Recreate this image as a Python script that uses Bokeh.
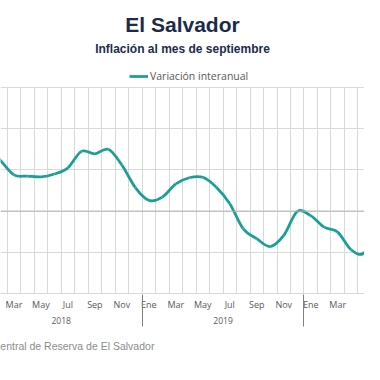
from bokeh.plotting import figure
from bokeh.models import (FixedTicker, LinearAxis, Grid, Span, Title,
                          Legend, LegendItem, Range1d)
from bokeh.embed import file_html
from bokeh.resources import INLINE

# ---------------- data ----------------
years = [2018] * 12 + [2019] * 12 + [2020] * 9
month_abbr = ["Ene", "Feb", "Mar", "Abr", "May", "Jun",
              "Jul", "Ago", "Sep", "Oct", "Nov", "Dic"]
inflation = [1.55, 1.23, 0.88, 0.85, 0.83, 0.90, 1.05, 1.45, 1.39, 1.50, 1.12, 0.57,
             0.26, 0.34, 0.66, 0.81, 0.82, 0.58, 0.18, -0.43, -0.67, -0.86, -0.59, -0.01,
             -0.11, -0.39, -0.51, -0.94, -1.00, -0.27, 0.10, 0.30, 0.40]
year_labels = ["2018", "2019", "2020"]
y_ticks = [-2, -1, 0, 1, 2, 3]
series_name = "Variación interanual"
title_text = "El Salvador"
subtitle_text = "Inflación al mes de septiembre"
source_text = "Fuente: Banco Central de Reserva de El Salvador"

TEAL = "#1a9e97"
GRID = "#d9d9d9"
TXT = "#595959"
NAVY = "#1c2b4a"

n = len(inflation)
xs = list(range(n))
y_lo, y_hi = min(y_ticks), max(y_ticks)

# frame: top at 60px (room for legend), plot area 87..293px -> 41.2 px per unit
px_per_unit = 206 / (y_hi - y_lo)
frame_top_extra = 27 / px_per_unit

p = figure(width=364, height=364, output_backend="svg", toolbar_location=None,
           x_axis_location=None, y_axis_location=None,
           x_range=Range1d(1.0033, 27.986), y_range=Range1d(y_lo, y_hi + frame_top_extra),
           min_border_left=0, min_border_right=0, min_border_top=60, min_border_bottom=71)
p.outline_line_color = None
p.background_fill_color = "white"
p.border_fill_color = "white"
p.xgrid.visible = False
p.ygrid.visible = False

# grids
v_ticks = [i - 0.5 for i in range(n + 1)]
if "cross_bounds" in Grid.properties():
    p.add_layout(Grid(dimension=0, ticker=FixedTicker(ticks=v_ticks), cross_bounds=(y_lo, y_hi),
                      grid_line_color=GRID, grid_line_width=1))
else:
    p.segment(x0=v_ticks, y0=[y_lo] * len(v_ticks), x1=v_ticks, y1=[y_hi] * len(v_ticks),
              line_color=GRID, line_width=1)
p.add_layout(Grid(dimension=1, ticker=FixedTicker(ticks=y_ticks),
                  grid_line_color=GRID, grid_line_width=1))
p.add_layout(Span(location=0, dimension="width", line_color="#b3b3b3", line_width=1))

# smooth line through the data (Catmull-Rom -> cubic Bezier)
x0, y0, x1, y1, cx0, cy0, cx1, cy1 = [], [], [], [], [], [], [], []
for i in range(n - 1):
    pm = inflation[max(i - 1, 0)]
    pa = inflation[i]
    pb = inflation[i + 1]
    pn = inflation[min(i + 2, n - 1)]
    x0.append(xs[i]); y0.append(pa)
    x1.append(xs[i + 1]); y1.append(pb)
    cx0.append(xs[i] + 1 / 3); cy0.append(pa + (pb - pm) / 6)
    cx1.append(xs[i + 1] - 1 / 3); cy1.append(pb - (pn - pa) / 6)
r = p.bezier(x0=x0, y0=y0, x1=x1, y1=y1, cx0=cx0, cy0=cy0, cx1=cx1, cy1=cy1,
             line_color=TEAL, line_width=2.75)

# year grouping
yr_pos = {}
for i, yv in enumerate(years):
    yr_pos.setdefault(yv, []).append(i)
yr_centers = [(min(v) + max(v)) / 2 for v in yr_pos.values()]
yr_bounds = [min(v) - 0.5 for v in yr_pos.values()]

def plain_axis(ax):
    ax.axis_line_color = None
    ax.major_tick_line_color = None
    ax.minor_tick_line_color = None
    ax.major_tick_out = 0
    ax.major_tick_in = 0
    ax.minor_tick_out = 0
    ax.minor_tick_in = 0
    ax.major_label_text_font = "Open Sans"
    ax.major_label_text_color = TXT

# month axis
m_ticks = [i for i in range(n) if i % 2 == 0]
ax1 = LinearAxis(ticker=FixedTicker(ticks=m_ticks),
                 major_label_overrides={i: month_abbr[i % 12] for i in m_ticks})
plain_axis(ax1)
ax1.axis_line_color = GRID
ax1.major_label_standoff = 4
ax1.major_label_text_font_size = "9px"
p.add_layout(ax1, "below")

# year axis
ax2 = LinearAxis(ticker=FixedTicker(ticks=yr_centers),
                 major_label_overrides={c: lab for c, lab in zip(yr_centers, year_labels)})
plain_axis(ax2)
ax2.major_label_standoff = 3
ax2.major_label_text_font_size = "8.5px"
p.add_layout(ax2, "below")

# label-less axis whose inward minor ticks draw the year separators
ax3 = LinearAxis(ticker=FixedTicker(ticks=[], minor_ticks=yr_bounds))
plain_axis(ax3)
ax3.major_label_standoff = 0
ax3.major_label_text_font_size = "0px"
ax3.minor_tick_line_color = "#808080"
ax3.minor_tick_in = 32
p.add_layout(ax3, "below")

# source line
p.add_layout(Title(text=source_text, align="left", offset=-79, standoff=22,
                   text_font="Liberation Sans", text_font_style="normal",
                   text_font_size="10.5px", text_color="#8c8c8c"), "below")

# legend inside the frame, above the plot area
legend = Legend(items=[LegendItem(label=series_name, renderers=[r])],
                location=(129, 210), orientation="horizontal",
                label_text_font="Open Sans", label_text_font_size="10.5px",
                label_text_color=TXT, glyph_width=19, glyph_height=14, label_height=14,
                label_standoff=2, padding=6, margin=0,
                border_line_color=None, background_fill_alpha=0)
p.add_layout(legend, "center")

# subtitle then title (stacked outward from the frame)
p.add_layout(Title(text=subtitle_text, align="center", offset=13, standoff=9,
                   text_font="Liberation Sans", text_font_style="bold",
                   text_font_size="12px", text_color=NAVY), "above")
p.add_layout(Title(text=title_text, align="center", offset=13, standoff=0,
                   text_font="Liberation Sans", text_font_style="bold",
                   text_font_size="21px", text_color=NAVY), "above")

open("out.html", "w").write(file_html(p, INLINE))
